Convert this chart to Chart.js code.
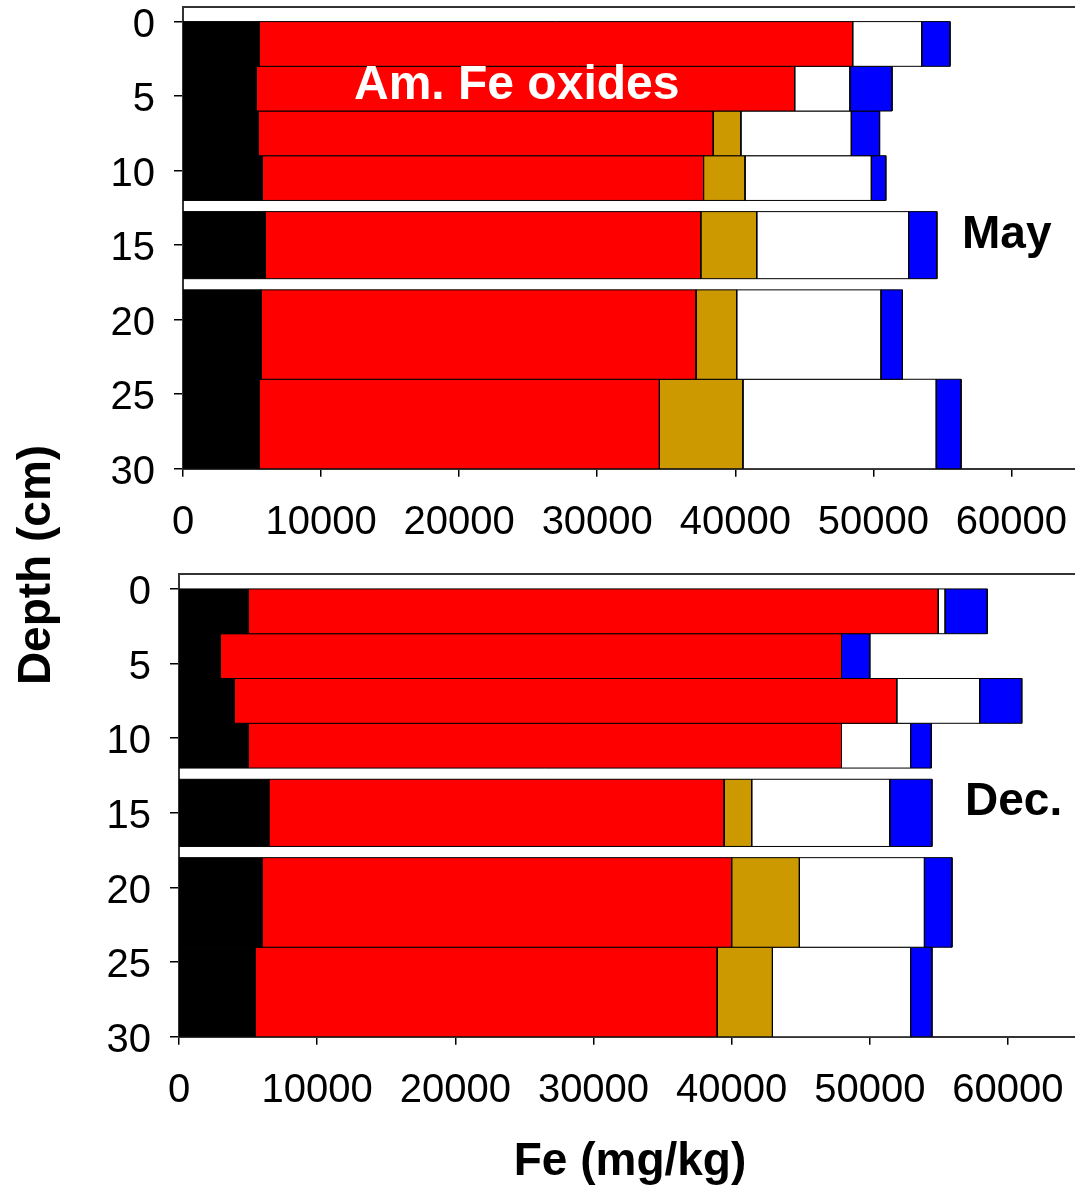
<!DOCTYPE html>
<html><head><meta charset="utf-8">
<script src="https://cdn.jsdelivr.net/npm/chart.js@4.4.0/dist/chart.umd.min.js"></script>
<style>
html,body{margin:0;padding:0;background:#fff;}
body{width:1075px;height:1186px;position:relative;overflow:hidden;font-family:'Liberation Sans',Arial,sans-serif;}
canvas{position:absolute;left:0;}
.lbl{position:absolute;font-weight:bold;font-size:46px;line-height:46px;white-space:nowrap;color:#000;}
</style></head><body>
<canvas id="may" width="1075" height="560" style="top:0px"></canvas>
<canvas id="dec" width="1075" height="626" style="top:560px"></canvas>
<div class="lbl" style="left:354px;top:59px;color:#fff;font-size:48px;line-height:48px">Am. Fe oxides</div>
<div class="lbl" style="left:962px;top:209px">May</div>
<div class="lbl" style="left:965px;top:776px">Dec.</div>
<div class="lbl" style="left:430px;top:1136px;width:400px;text-align:center">Fe (mg/kg)</div>
<div class="lbl" style="left:-116px;top:542px;width:300px;text-align:center;transform:rotate(-90deg)">Depth (cm)</div>
<script>
// depth intervals (cm)
const rowTop = [0, 3, 6, 9, 12.75, 18, 24];
const rowBottom = [3, 6, 9, 12, 17.25, 24, 30];
const fractionNames = ['Fraction 1', 'Am. Fe oxides', 'Fraction 3', 'Fraction 4', 'Fraction 5'];
const fractionColors = ['#000000', '#FF0000', '#CC9900', '#FFFFFF', '#0000FF'];
// May (mg/kg per fraction)
const mayBlack = [5500, 5300, 5450, 5750, 5950, 5650, 5500];
const mayRed   = [43000, 39000, 32950, 31950, 31550, 31500, 29000];
const mayTan   = [0, 0, 2000, 3000, 4050, 2950, 6050];
const mayWhite = [5000, 4000, 8000, 9150, 11000, 10450, 14000];
const mayBlue  = [2050, 3050, 2050, 1050, 2050, 1550, 1800];
// December
const decBlack = [5000, 3000, 4000, 5000, 6500, 6000, 5500];
const decRed   = [49950, 44950, 47950, 42950, 32950, 34000, 33450];
const decTan   = [0, 0, 0, 0, 2000, 4900, 4000];
const decWhite = [500, 0, 6000, 5000, 10000, 9050, 10000];
const decBlue  = [3050, 2050, 3050, 1500, 3050, 2000, 1550];
// tick labels
const xTicks = [0, 10000, 20000, 30000, 40000, 50000, 60000];
const yTicks = [0, 5, 10, 15, 20, 25, 30];

Chart.defaults.font.family = "'Liberation Sans', Arial, sans-serif";
Chart.defaults.font.size = 40;
Chart.defaults.color = '#000';

function zeroPad(a) { a.paddingTop = 0; a.paddingBottom = 0; a.paddingLeft = 0; a.paddingRight = 0; }

function makeChart(canvasId, series, geo) {
  const datasets = [];
  rowTop.forEach((top, r) => {
    let start = 0;
    series.forEach((vals, c) => {
      const v = vals[r];
      if (v > 0) {
        const end = start + v;
        const bot = rowBottom[r];
        datasets.push({
          label: fractionNames[c] + ' ' + top + '-' + bot + ' cm',
          data: [{x:start,y:top},{x:end,y:top},{x:end,y:bot},{x:start,y:bot},{x:start,y:top}],
          showLine: true, fill: 'shape',
          backgroundColor: fractionColors[c], borderColor: '#000', borderWidth: 1,
          pointRadius: 0, pointHoverRadius: 0, tension: 0, borderJoinStyle: 'miter'
        });
      }
      start += v;
    });
  });
  const axisBorder = {display: true, color: '#333', width: 2};
  return new Chart(document.getElementById(canvasId), {
    type: 'scatter',
    data: {datasets},
    options: {
      responsive: false, animation: false, events: [],
      layout: {padding: {top: geo.top, left: 0, right: 0, bottom: 0}},
      plugins: {legend: {display: false}, tooltip: {enabled: false}},
      scales: {
        x: {
          type: 'linear', position: 'bottom', min: 0, max: geo.xMax,
          afterBuildTicks: a => { a.ticks = xTicks.map(v => ({value: v})); },
          afterFit: a => { a.height = geo.xAxisH; zeroPad(a); },
          ticks: {padding: 22, maxRotation: 0, autoSkip: false, callback: v => String(v)},
          grid: {drawOnChartArea: false, drawTicks: true, tickLength: 8, color: '#000', lineWidth: 1.5},
          border: axisBorder
        },
        x2: {
          type: 'linear', axis: 'x', position: 'top', min: 0, max: geo.xMax,
          ticks: {display: false}, grid: {display: false, drawTicks: false},
          border: axisBorder,
          afterFit: a => { a.height = 0; zeroPad(a); }
        },
        y: {
          type: 'linear', reverse: true, min: -1, max: 30,
          afterBuildTicks: a => { a.ticks = yTicks.map(v => ({value: v})); },
          afterFit: a => { a.width = geo.left; zeroPad(a); },
          ticks: {padding: 19, labelOffset: 4, callback: v => String(v)},
          grid: {drawOnChartArea: false, drawTicks: true, tickLength: 9, color: '#000', lineWidth: 1.5},
          border: axisBorder
        }
      }
    }
  });
}

makeChart('may', [mayBlack, mayRed, mayTan, mayWhite, mayBlue],
  {top: 6.7, left: 183, xMax: 64600, xAxisH: 560 - 468.7});
makeChart('dec', [decBlack, decRed, decTan, decWhite, decBlue],
  {top: 14, left: 179, xMax: 64850, xAxisH: 626 - 476.8});
</script>
</body></html>
